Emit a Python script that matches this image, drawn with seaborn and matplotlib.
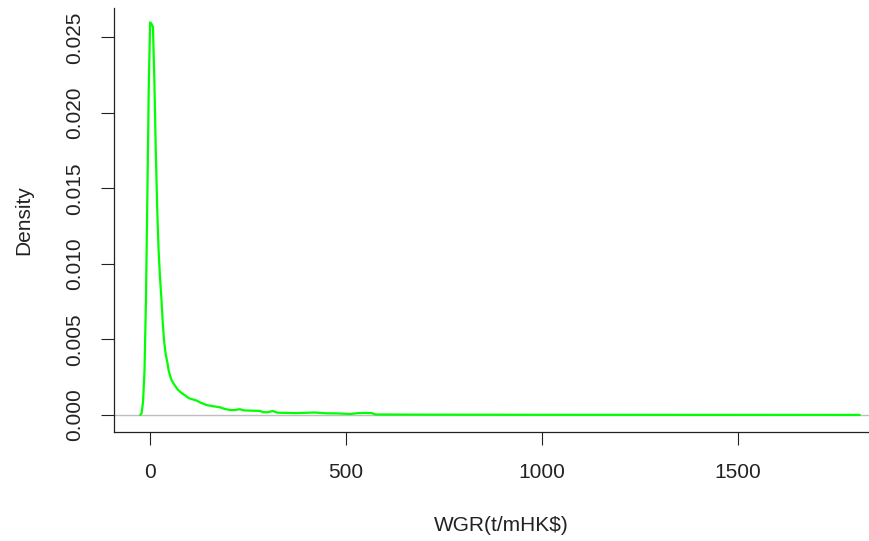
import matplotlib
matplotlib.use("Agg")
import matplotlib.pyplot as plt
import seaborn as sns
import pandas as pd

# Density estimate (x in t/mHK$, y = density)
wgr = [-25, -21.4, -17.8, -14.2, -10.6, -7.0, -3.4, 0.2, 3.8, 7.4, 11.0, 14.6,
       18.2, 21.8, 25.4, 29.0, 32.6, 36.2, 40, 44, 47, 51, 55, 62, 70, 78, 89,
       100, 119, 130, 144, 160, 178, 190, 204, 215, 229, 240, 260, 280, 289,
       300, 313, 325, 370, 420, 450, 480, 510, 530, 548, 566, 575, 700, 1000,
       1400, 1811]
density = [0.0, 0.00013, 0.0009, 0.0029, 0.0074, 0.0142, 0.0216, 0.0260,
           0.0259, 0.0257, 0.0221, 0.0175, 0.0137, 0.0109, 0.0091, 0.0077,
           0.0060, 0.0048, 0.0040, 0.0035, 0.0030, 0.0026, 0.0023, 0.0020,
           0.0017, 0.0015, 0.0013, 0.0011, 0.00095, 0.0008, 0.00066, 0.00058,
           0.00051, 0.0004, 0.00033, 0.00032, 0.00038, 0.00030, 0.00028,
           0.00027, 0.00018, 0.00018, 0.00026, 0.00015, 0.00012, 0.00016,
           0.00011, 0.0001, 0.00006, 0.00012, 0.00013, 0.00012, 0.00003,
           0.00002, 0.00001, 0.000005, 0.0]

x_ticks = [0, 500, 1000, 1500]
y_ticks = [0.000, 0.005, 0.010, 0.015, 0.020, 0.025]
y_tick_labels = ["0.000", "0.005", "0.010", "0.015", "0.020", "0.025"]
x_label = "WGR(t/mHK\\$)"
y_label = "Density"

sns.set_theme(style="white")
plt.rcParams["font.family"] = ["Liberation Sans", "DejaVu Sans"]

df = pd.DataFrame({"x": wgr, "y": density})

fig = plt.figure(figsize=(8.7, 5.41), dpi=100)
ax = fig.add_axes([114 / 870, 1 - 432 / 541, (870 - 114) / 870, (432 - 8) / 541])

ax.axhline(0, color="#bebebe", lw=1.0, zorder=1)
sns.lineplot(data=df, x="x", y="y", ax=ax, color="#00ff00", lw=1.6,
             sort=False, zorder=2)

ax.set_xlim(-92, 1837)
ax.set_ylim(-0.00113, 0.02695)
ax.set_xticks(x_ticks)
ax.set_xticklabels([str(t) for t in x_ticks])
ax.set_yticks(y_ticks)
ax.set_yticklabels(y_tick_labels, rotation=90, va="center")

for side in ["top", "right"]:
    ax.spines[side].set_visible(False)
for side in ["left", "bottom"]:
    ax.spines[side].set_color("#222222")
    ax.spines[side].set_linewidth(0.9)

ax.tick_params(axis="both", direction="out", length=9.4, width=0.8,
               color="#222222", labelsize=15, labelcolor="#222222",
               left=True, bottom=True)
ax.tick_params(axis="x", pad=13)
ax.tick_params(axis="y", pad=12)

ax.set_xlabel(x_label, fontsize=15, color="#222222")
ax.set_ylabel(y_label, fontsize=15, color="#222222")
ax.xaxis.set_label_coords(0.512, -0.198)
ax.yaxis.set_label_coords(-0.107, 0.5)

fig.savefig("out.png", dpi=100)
